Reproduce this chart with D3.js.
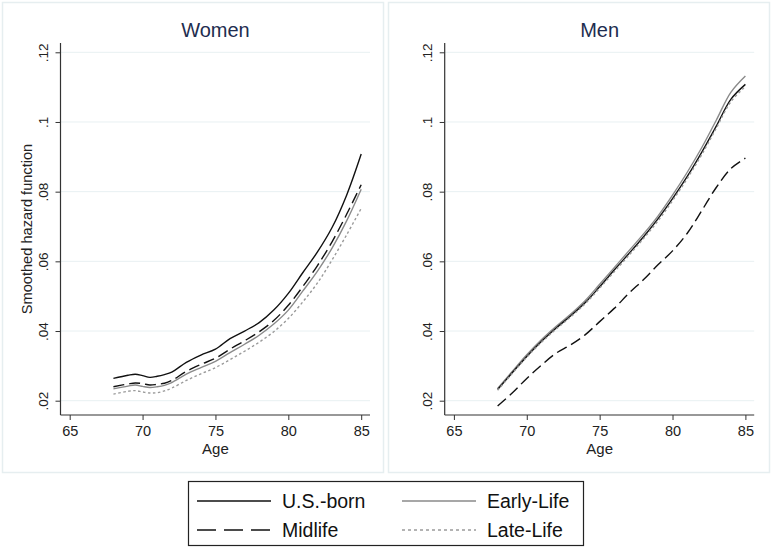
<!DOCTYPE html>
<html>
<head>
<meta charset="utf-8">
<script src="https://cdn.jsdelivr.net/npm/d3@7"></script>
<style>
  body { margin: 0; background: #fff; }
  svg { display: block; font-family: "Liberation Sans", Arial, sans-serif; }
</style>
</head>
<body>
<svg id="chart" width="772" height="548"></svg>
<script>
// ages (women have extra half-year points for the early wiggle)
var agesWomen = [68, 69, 69.5, 70, 70.5, 71, 71.5, 72, 73, 74, 75, 76, 77, 78, 79, 80, 81, 82, 83, 84, 85];
var agesMen = [68, 69, 70, 71, 72, 73, 74, 75, 76, 77, 78, 79, 80, 81, 82, 83, 84, 85];

var womenUSborn = [0.0264, 0.0273, 0.0276, 0.0272, 0.0267, 0.0270, 0.0275, 0.0282, 0.0310, 0.0331, 0.0348, 0.0378, 0.0400, 0.0424, 0.0460, 0.0508, 0.0568, 0.0627, 0.0697, 0.0790, 0.0908];
var womenMidlife = [0.0240, 0.0248, 0.0251, 0.0249, 0.0245, 0.0247, 0.0250, 0.0258, 0.0284, 0.0304, 0.0322, 0.0348, 0.0372, 0.0398, 0.0430, 0.0474, 0.0528, 0.0588, 0.0656, 0.0735, 0.0820];
var womenEarly = [0.0234, 0.0242, 0.0245, 0.0241, 0.0238, 0.0240, 0.0244, 0.0252, 0.0276, 0.0295, 0.0313, 0.0338, 0.0362, 0.0388, 0.0420, 0.0460, 0.0515, 0.0572, 0.0638, 0.0716, 0.0807];
var womenLate = [0.0219, 0.0227, 0.0229, 0.0225, 0.0222, 0.0223, 0.0228, 0.0236, 0.0258, 0.0277, 0.0295, 0.0318, 0.0342, 0.0368, 0.0398, 0.0436, 0.0484, 0.0538, 0.0604, 0.0676, 0.0752];

var menUSborn = [0.0232, 0.0280, 0.0327, 0.0370, 0.0408, 0.0443, 0.0481, 0.0527, 0.0575, 0.0622, 0.0670, 0.0722, 0.0780, 0.0843, 0.0913, 0.0988, 0.1065, 0.1108];
var menMidlife = [0.0185, 0.0222, 0.0264, 0.0302, 0.0336, 0.0360, 0.0389, 0.0427, 0.0465, 0.0508, 0.0547, 0.0590, 0.0630, 0.0680, 0.0745, 0.0812, 0.0866, 0.0896];
var menEarly = [0.0235, 0.0284, 0.0332, 0.0375, 0.0413, 0.0448, 0.0487, 0.0534, 0.0582, 0.0630, 0.0678, 0.0730, 0.0790, 0.0855, 0.0926, 0.1005, 0.1085, 0.1132];
var menLate = [0.0230, 0.0278, 0.0325, 0.0367, 0.0405, 0.0440, 0.0478, 0.0523, 0.0570, 0.0617, 0.0665, 0.0716, 0.0774, 0.0837, 0.0906, 0.0982, 0.1058, 0.1102];

var xTicks = [65, 70, 75, 80, 85];
var yTicks = [0.02, 0.04, 0.06, 0.08, 0.1, 0.12];
var yTickLabels = [".02", ".04", ".06", ".08", ".1", ".12"];
var seriesNames = ["U.S.-born", "Midlife", "Early-Life", "Late-Life"];

var styles = {
	"U.S.-born": { stroke: "#111", width: 1.4, dash: null },
	"Midlife": { stroke: "#111", width: 1.4, dash: "11,5" },
	"Early-Life": { stroke: "#8a8a8a", width: 1.4, dash: null },
	"Late-Life": { stroke: "#9a9a9a", width: 1.4, dash: "2.5,2.5" }
};

var panels = [
	{ title: "Women", left: 0, yAxisX: 60.5, ages: agesWomen,
	  series: { "U.S.-born": womenUSborn, "Midlife": womenMidlife, "Early-Life": womenEarly, "Late-Life": womenLate },
	  order: ["Late-Life", "Early-Life", "Midlife", "U.S.-born"], yTitle: true },
	{ title: "Men", left: 386, yAxisX: 444.7, ages: agesMen,
	  series: { "U.S.-born": menUSborn, "Midlife": menMidlife, "Early-Life": menEarly, "Late-Life": menLate },
	  order: ["Midlife", "Early-Life", "U.S.-born", "Late-Life"], yTitle: false }
];

var svg = d3.select("#chart");

var TOP = 43, BOTTOM = 415;

panels.forEach(function(p) {
	var g = svg.append("g");

	// panel frame
	g.append("rect")
		.attr("x", p.left + 2.5).attr("y", 2.5)
		.attr("width", 381).attr("height", 470)
		.attr("fill", "none").attr("stroke", "#e6eef0").attr("stroke-width", 1.5);

	var x = d3.scaleLinear().domain([65, 85]).range([p.yAxisX + 9.2, p.yAxisX + 9.2 + 291.5]);
	var y = d3.scaleLinear().domain([0.02, 0.12]).range([400.7, 52.3]);
	var xEnd = p.yAxisX + 309.5;

	// grid lines
	g.selectAll(".grid").data(yTicks).enter().append("line")
		.attr("x1", p.yAxisX).attr("x2", xEnd)
		.attr("y1", function(d) { return y(d); }).attr("y2", function(d) { return y(d); })
		.attr("stroke", "#e8f0f2").attr("stroke-width", 1);

	// y axis
	var yAxis = d3.axisLeft(y).tickValues(yTicks).tickSize(5)
		.tickFormat(function(d, i) { return yTickLabels[i]; });
	var ya = g.append("g").attr("transform", "translate(" + p.yAxisX + ",0)").call(yAxis);
	ya.select(".domain").attr("d", "M0," + TOP + "V" + BOTTOM).attr("stroke", "#333").attr("stroke-width", 1.2);
	ya.selectAll(".tick line").attr("stroke", "#333");
	ya.selectAll(".tick text")
		.attr("x", null).attr("dy", null)
		.attr("transform", "translate(-13,0) rotate(-90)")
		.attr("text-anchor", "middle")
		.attr("font-size", 13.5).attr("fill", "#222").attr("font-family", "Liberation Sans, Arial, sans-serif");

	// x axis
	var xAxis = d3.axisBottom(x).tickValues(xTicks).tickSize(5).tickFormat(d3.format("d"));
	var xa = g.append("g").attr("transform", "translate(0," + BOTTOM + ")").call(xAxis);
	xa.select(".domain").attr("d", "M" + p.yAxisX + ",0H" + xEnd).attr("stroke", "#333").attr("stroke-width", 1.2);
	xa.selectAll(".tick line").attr("stroke", "#333");
	xa.selectAll(".tick text").attr("y", 11)
		.attr("font-size", 14.5).attr("fill", "#222").attr("font-family", "Liberation Sans, Arial, sans-serif");

	g.append("text")
		.attr("x", x(75)).attr("y", 454)
		.attr("text-anchor", "middle").attr("font-size", 15).attr("fill", "#222")
		.text("Age");

	g.append("text")
		.attr("x", x(75)).attr("y", 37)
		.attr("text-anchor", "middle").attr("font-size", 20).attr("fill", "#1e2d4f")
		.text(p.title);

	if (p.yTitle) {
		g.append("text")
			.attr("transform", "translate(32,229) rotate(-90)")
			.attr("text-anchor", "middle").attr("font-size", 14.6).attr("fill", "#222")
			.text("Smoothed hazard function");
	}

	var line = d3.line()
		.x(function(d) { return x(d[0]); })
		.y(function(d) { return y(d[1]); })
		.curve(d3.curveCatmullRom.alpha(0.5));

	p.order.forEach(function(name) {
		var st = styles[name];
		var pts = p.ages.map(function(a, i) { return [a, p.series[name][i]]; });
		g.append("path")
			.datum(pts)
			.attr("d", line)
			.attr("fill", "none")
			.attr("stroke", st.stroke)
			.attr("stroke-width", st.width)
			.attr("stroke-dasharray", st.dash);
	});
});

// legend
var lg = svg.append("g");
lg.append("rect")
	.attr("x", 188.5).attr("y", 481.5).attr("width", 395).attr("height", 64)
	.attr("fill", "#fff").attr("stroke", "#222").attr("stroke-width", 1.2);

var legendPos = [
	{ x: 197, y: 501 }, { x: 197, y: 530 },
	{ x: 402, y: 501 }, { x: 402, y: 530 }
];
var legendDash = { "Midlife": "19,8", "Late-Life": "3,3" };

seriesNames.forEach(function(name, i) {
	var st = styles[name];
	var pos = legendPos[i];
	lg.append("line")
		.attr("x1", pos.x).attr("x2", pos.x + 74)
		.attr("y1", pos.y).attr("y2", pos.y)
		.attr("stroke", st.stroke).attr("stroke-width", 1.6)
		.attr("stroke-dasharray", legendDash[name] || null);
	lg.append("text")
		.attr("x", pos.x + 85).attr("y", pos.y + 7)
		.attr("font-size", 19.5).attr("fill", "#111")
		.text(name);
});
</script>
</body>
</html>
